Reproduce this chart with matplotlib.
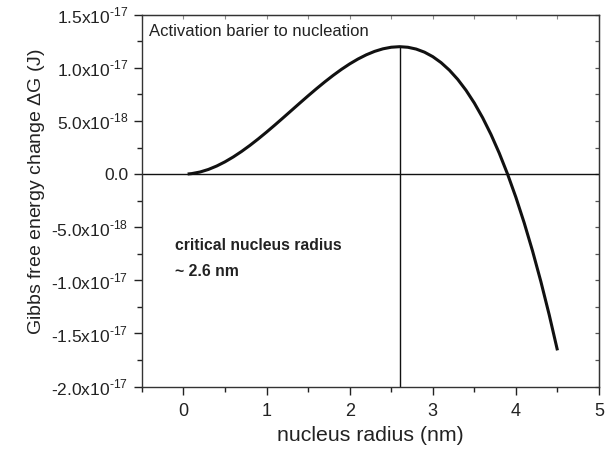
import matplotlib
matplotlib.use("Agg")
import matplotlib.pyplot as plt
import numpy as np

plt.rcParams['font.family'] = ['Liberation Sans', 'DejaVu Sans']
plt.rcParams['mathtext.fontset'] = 'custom'
plt.rcParams['mathtext.rm'] = 'Liberation Sans'

# curve (dG in units of 1e-17 J)
r = [0.05, 0.1, 0.2, 0.3, 0.4, 0.5, 0.6, 0.7, 0.8, 0.9,
     1.0, 1.1, 1.2, 1.3, 1.4, 1.5, 1.6, 1.7, 1.8, 1.9,
     2.0, 2.1, 2.2, 2.3, 2.4, 2.5, 2.6, 2.7, 2.8, 2.9,
     3.0, 3.1, 3.2, 3.3, 3.4, 3.5, 3.6, 3.7, 3.8, 3.9,
     4.0, 4.1, 4.2, 4.3, 4.4, 4.5]
dG = [0.0013, 0.0052, 0.0202, 0.0442, 0.0765, 0.1161, 0.1622, 0.2141, 0.2709, 0.3318,
      0.3960, 0.4626, 0.5309, 0.6000, 0.6691, 0.7374, 0.8040, 0.8682, 0.9291, 0.9859,
      1.0378, 1.0839, 1.1235, 1.1558, 1.1798, 1.1948, 1.2000, 1.1945, 1.1776, 1.1484,
      1.1061, 1.0498, 0.9788, 0.8922, 0.7893, 0.6691, 0.5309, 0.3739, 0.1972, 0.0,
      -0.2185, -0.4591, -0.7226, -1.0099, -1.3218, -1.6591]
r_crit = 2.6

yticks = [1.5e-17, 1.0e-17, 5.0e-18, 0.0, -5.0e-18, -1.0e-17, -1.5e-17, -2.0e-17]
ylabels = [r'1.5x10$^{\text{-}17}$', r'1.0x10$^{\text{-}17}$', r'5.0x10$^{\text{-}18}$', '0.0',
           r'-5.0x10$^{\text{-}18}$', r'-1.0x10$^{\text{-}17}$', r'-1.5x10$^{\text{-}17}$',
           r'-2.0x10$^{\text{-}17}$']

fig = plt.figure(figsize=(6.09, 4.49), dpi=100)
ax = fig.add_axes([0.233, 0.139, 0.7506, 0.828])

y = np.array(dG) * 1e-17
ax.plot(r, y, color='#111111', lw=2.2, solid_capstyle='butt')
ax.axhline(0, color='#111111', lw=1)
ax.plot([r_crit, r_crit], [-2e-17, max(y)], color='#111111', lw=1)

ax.set_xlim(-0.5, 5)
ax.set_ylim(-2e-17, 1.5e-17)
ax.set_xticks([0, 1, 2, 3, 4, 5])
ax.set_xticks(np.arange(-0.5, 5.01, 0.5), minor=True)
ax.set_yticks(yticks)
ax.set_yticklabels(ylabels)
ax.set_yticks(np.arange(-2e-17, 1.51e-17, 2.5e-18), minor=True)

ax.tick_params(which='both', direction='out', colors='#222222')
ax.tick_params(axis='x', labelsize=13, pad=6)
ax.tick_params(axis='y', labelsize=12.5, pad=4)
ax.tick_params(which='major', length=6, width=1)
ax.tick_params(which='minor', length=3.5, width=1)
for s in ax.spines.values():
    s.set_color('#333333')
    s.set_linewidth(1)

# small inward ticks on top and right frame
top = ax.secondary_xaxis('top')
top.set_xticks(np.arange(-0.5, 5.01, 0.5))
top.tick_params(direction='in', length=3, width=0.8, colors='#888888', labeltop=False)
top.spines['top'].set_color('#555555')
right = ax.secondary_yaxis('right')
right.set_yticks(np.arange(-2e-17, 1.51e-17, 2.5e-18))
right.tick_params(direction='in', length=3, width=0.9, colors='#555555', labelright=False)
right.spines['right'].set_color('#333333')

ax.set_xlabel('nucleus radius (nm)', fontsize=15.3, color='#222222', labelpad=4)
ax.set_ylabel(r'Gibbs free energy change $\Delta$G (J)', fontsize=14, color='#222222')
ax.yaxis.set_label_coords(-0.208, 0.525)

ax.text(-0.42, 1.34e-17, 'Activation barier to nucleation', fontsize=12, color='#222222', va='center')
ax.text(-0.1, -6.7e-18, 'critical nucleus radius', fontsize=11.3, fontweight='bold', color='#222222', va='center')
ax.text(-0.1, -9.2e-18, '~ 2.6 nm', fontsize=11.3, fontweight='bold', color='#222222', va='center')

fig.savefig('out.png', dpi=100)
